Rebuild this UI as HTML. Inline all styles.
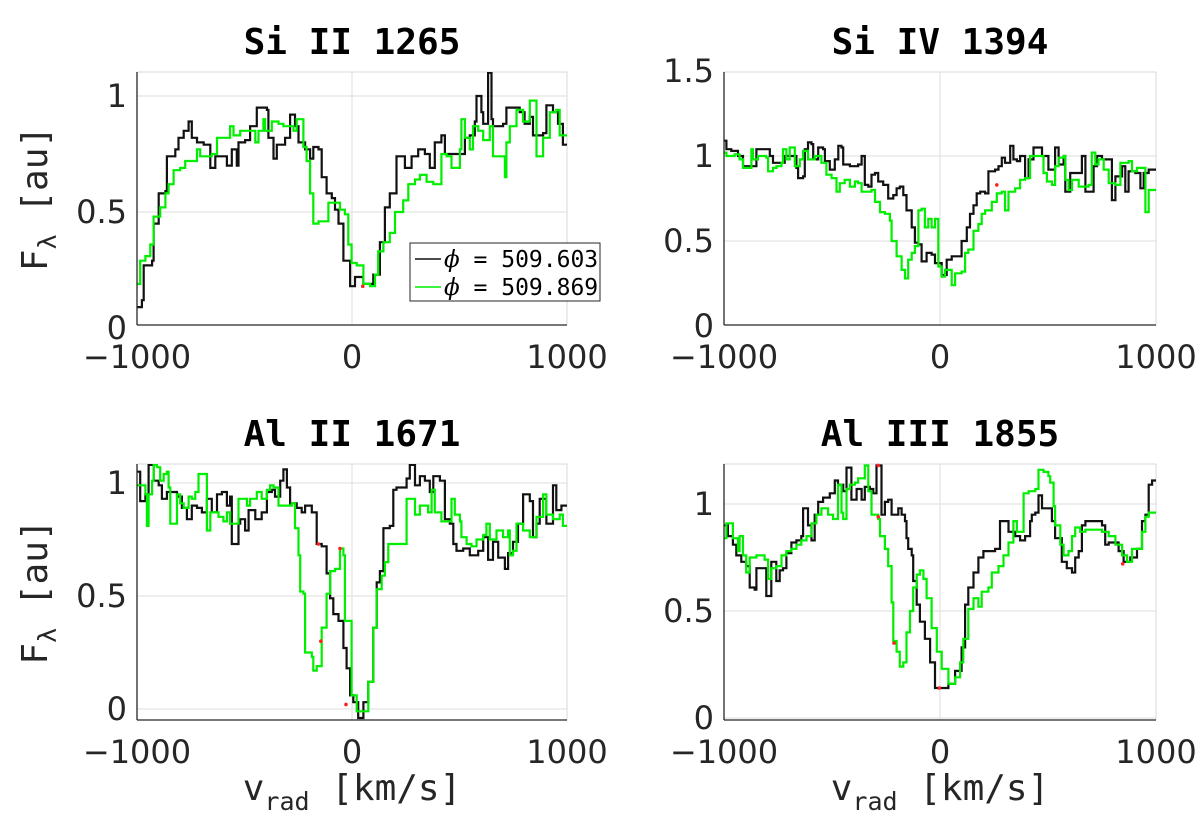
<!DOCTYPE html>
<html><head><meta charset="utf-8">
<style>
html,body{margin:0;padding:0;background:#fff;}
svg{display:block;}
</style></head>
<body>
<svg id="fig" width="1200" height="826" viewBox="0 0 1200 826" xmlns="http://www.w3.org/2000/svg"></svg>
<script>
// ---------- data (velocity km/s, normalized flux) ----------
const xTicks = [-1000, 0, 1000];
const xTickLabels = ["\u22121000", "0", "1000"];
const legendLabels = ["509.603", "509.869"];

const siII_velA = [-1000,-977,-969,-930,-923,-899,-868,-861,-837,-822,-807,-783,-760,-745,-721,-690,-659,-636,-582,-559,-536,-528,-497,-474,-443,-396,-389,-365,-350,-311,-288,-265,-249,-218,-195,-180,-156,-141,-118,-94,-79,-63,-40,-9,14,53,99,130,153,176,207,238,246,277,308,339,362,385,416,432,494,525,548,571,579,602,610,633,649,656,687,703,718,780,803,827,842,889,904,935,958,981];
const siII_fluxA = [0.09,0.12,0.27,0.29,0.45,0.58,0.59,0.74,0.74,0.77,0.82,0.85,0.89,0.82,0.80,0.79,0.69,0.74,0.70,0.77,0.70,0.80,0.81,0.87,0.95,0.94,0.82,0.73,0.79,0.82,0.92,0.87,0.80,0.77,0.73,0.78,0.77,0.65,0.58,0.56,0.51,0.45,0.29,0.18,0.22,0.19,0.23,0.37,0.52,0.58,0.74,0.74,0.69,0.74,0.77,0.75,0.69,0.80,0.83,0.75,0.75,0.82,0.83,0.89,1.0,0.93,0.88,1.10,0.90,0.87,0.87,0.88,0.95,0.93,0.88,0.91,0.83,0.84,0.96,0.93,0.88,0.79];
const siII_velB = [-1000,-985,-961,-938,-923,-892,-868,-853,-830,-799,-776,-721,-706,-683,-652,-628,-582,-567,-551,-520,-489,-466,-450,-435,-412,-404,-373,-342,-319,-296,-272,-257,-234,-226,-211,-195,-180,-156,-125,-110,-79,-56,-33,-17,-2,22,53,84,107,122,146,176,200,238,262,293,316,347,378,416,440,463,502,509,525,548,563,587,610,641,656,687,711,718,734,765,796,827,858,889,920,950,966];
const siII_fluxB = [0.19,0.29,0.31,0.36,0.48,0.52,0.58,0.62,0.68,0.69,0.72,0.77,0.74,0.74,0.75,0.82,0.82,0.87,0.83,0.85,0.85,0.85,0.80,0.85,0.90,0.85,0.89,0.88,0.87,0.87,0.85,0.90,0.90,0.78,0.72,0.58,0.45,0.46,0.46,0.54,0.54,0.51,0.49,0.36,0.28,0.27,0.19,0.18,0.23,0.33,0.37,0.41,0.50,0.55,0.62,0.64,0.66,0.63,0.62,0.75,0.74,0.69,0.77,0.90,0.82,0.77,0.87,0.85,0.81,0.87,0.74,0.74,0.65,0.80,0.87,0.94,0.89,0.98,0.74,0.82,0.93,0.94,0.83];

const siIV_velA = [-1000,-989,-966,-935,-912,-858,-850,-804,-788,-773,-734,-719,-665,-657,-634,-626,-611,-595,-587,-564,-541,-533,-510,-487,-471,-456,-448,-417,-379,-363,-348,-332,-317,-301,-286,-263,-240,-216,-201,-186,-170,-155,-131,-116,-100,-85,-62,-39,-23,8,31,54,85,100,124,139,155,170,186,209,224,255,271,286,301,325,340,356,371,394,410,433,456,472,502,533,549,572,580,595,603,642,657,673,711,727,750,773,796,812,843,858,873,904,928,943,966];
const siIV_fluxA = [1.09,1.04,1.03,1.00,0.94,0.94,1.04,1.04,1.00,0.96,0.96,1.00,0.93,0.87,0.88,1.04,1.08,1.07,0.98,1.05,1.04,0.97,0.92,0.98,1.06,1.05,0.95,0.94,0.95,1.00,0.83,0.82,0.89,0.90,0.85,0.83,0.75,0.77,0.81,0.82,0.77,0.68,0.58,0.49,0.48,0.38,0.43,0.42,0.37,0.30,0.39,0.41,0.41,0.50,0.58,0.66,0.71,0.78,0.79,0.78,0.91,0.92,0.94,0.99,0.96,1.06,0.98,0.97,1.00,0.87,0.98,1.05,1.05,1.00,0.92,1.05,0.95,1.00,0.79,0.79,0.90,0.90,1.00,0.79,0.94,1.00,0.98,0.98,0.74,0.88,0.94,0.79,0.91,0.90,0.81,0.90,0.92];
const siIV_velB = [-1000,-989,-951,-928,-912,-881,-873,-866,-850,-843,-804,-796,-773,-757,-734,-727,-711,-696,-672,-649,-634,-611,-580,-549,-526,-502,-479,-464,-441,-417,-394,-379,-363,-317,-301,-278,-255,-232,-224,-201,-178,-162,-147,-131,-116,-100,-85,-70,-54,-39,-23,-8,8,23,54,70,100,116,131,155,178,193,209,240,263,286,301,317,348,371,394,417,448,479,495,518,533,549,572,580,595,611,642,688,703,719,734,758,781,812,835,873,889,912,951,966];
const siIV_fluxB = [1.02,1.00,1.01,0.98,0.93,0.93,1.04,0.98,0.98,1.00,0.99,0.91,0.93,0.94,0.96,1.04,0.98,1.05,0.94,0.98,1.03,0.98,1.00,0.96,0.89,0.87,0.79,0.84,0.86,0.82,0.85,0.84,0.79,0.80,0.73,0.67,0.66,0.62,0.50,0.41,0.33,0.28,0.39,0.43,0.47,0.68,0.69,0.58,0.63,0.58,0.63,0.35,0.29,0.33,0.24,0.31,0.32,0.43,0.45,0.56,0.60,0.66,0.68,0.73,0.78,0.79,0.68,0.79,0.81,0.86,0.87,1.00,1.00,0.90,0.85,0.83,0.94,0.99,1.00,0.86,0.80,0.86,0.82,0.83,1.02,0.95,0.98,0.92,0.84,0.83,0.96,0.97,0.91,0.93,0.67,0.80];

const alII_velA = [-1000,-985,-969,-961,-946,-930,-923,-899,-884,-861,-814,-791,-768,-745,-721,-698,-675,-652,-628,-605,-582,-567,-559,-536,-528,-520,-497,-481,-450,-420,-396,-373,-358,-334,-319,-303,-288,-257,-234,-218,-187,-164,-141,-118,-102,-87,-63,-40,-25,-9,6,29,53,76,99,115,130,146,176,192,207,254,269,285,293,316,339,362,378,409,432,455,471,486,517,548,587,610,633,656,680,711,726,749,772,796,827,842,858,873,904,935,950,974];
const alII_fluxA = [1.05,0.92,0.92,0.95,1.08,1.09,1.01,0.99,0.93,0.96,0.94,0.89,0.84,0.90,0.89,0.87,0.93,0.87,0.95,0.96,0.90,0.94,0.73,0.73,0.82,0.84,0.79,0.88,0.84,0.87,0.96,0.97,0.94,1.01,1.06,0.98,0.91,0.89,0.87,0.90,0.87,0.73,0.72,0.60,0.49,0.42,0.39,0.27,0.18,0.06,0.03,-0.04,0.03,0.12,0.36,0.56,0.61,0.80,0.81,0.97,0.98,1.02,1.08,1.08,0.99,1.03,1.01,0.96,1.03,1.01,0.84,0.82,0.73,0.70,0.71,0.68,0.70,0.76,0.66,0.74,0.67,0.62,0.69,0.74,0.82,0.95,0.92,0.76,0.82,0.93,0.82,0.99,0.88,0.90];
const alII_velB = [-1000,-985,-961,-954,-946,-930,-923,-907,-892,-876,-861,-853,-845,-822,-814,-799,-783,-760,-745,-729,-714,-683,-675,-659,-636,-621,-598,-582,-567,-536,-528,-489,-474,-443,-420,-396,-381,-365,-342,-319,-280,-265,-249,-241,-226,-218,-187,-180,-164,-141,-118,-102,-79,-56,-40,-33,-17,-2,22,53,76,99,115,138,153,169,254,285,293,316,354,370,385,416,447,463,478,502,509,533,556,579,610,625,641,672,703,726,734,749,765,796,827,858,889,904,935,966,981];
const alII_fluxB = [0.99,0.99,0.95,0.81,0.95,1.01,1.08,1.07,1.01,1.04,1.05,0.98,0.82,0.82,0.95,0.91,0.89,0.94,0.93,0.96,1.04,1.04,0.79,0.87,0.87,0.85,0.83,0.87,0.82,0.82,0.93,0.90,0.93,0.96,0.93,0.97,0.99,0.98,0.90,0.90,0.91,0.80,0.68,0.52,0.51,0.25,0.23,0.17,0.19,0.36,0.51,0.61,0.62,0.71,0.68,0.39,0.39,0.06,-0.01,-0.01,0.12,0.36,0.53,0.59,0.65,0.73,0.93,0.93,0.86,0.90,0.87,0.97,0.87,0.83,0.83,0.93,0.86,0.83,0.76,0.73,0.72,0.75,0.77,0.82,0.75,0.79,0.76,0.79,0.68,0.70,0.82,0.79,0.76,0.85,0.95,0.86,0.84,0.86,0.81];

const alIII_velA = [-1000,-982,-959,-943,-920,-897,-881,-858,-850,-819,-804,-788,-781,-765,-758,-742,-727,-711,-688,-665,-642,-634,-611,-595,-580,-564,-541,-510,-487,-472,-448,-433,-417,-410,-386,-363,-348,-325,-309,-294,-278,-271,-255,-240,-224,-193,-178,-162,-155,-147,-131,-124,-108,-93,-70,-46,-23,8,39,70,100,116,131,155,178,201,224,255,278,294,317,348,371,394,417,425,441,456,472,487,518,533,564,587,611,626,642,657,673,750,765,781,827,850,881,912,935,951,966,982];
const alIII_fluxA = [0.90,0.85,0.81,0.76,0.73,0.71,0.61,0.60,0.70,0.70,0.57,0.57,0.73,0.73,0.64,0.69,0.70,0.77,0.82,0.83,0.85,0.98,0.90,0.83,0.95,1.01,1.03,1.05,1.11,1.09,1.06,1.17,1.17,1.02,1.07,1.02,1.08,1.07,1.05,1.18,1.18,0.95,1.01,1.02,0.95,0.98,0.95,0.92,0.84,0.79,0.76,0.64,0.53,0.45,0.37,0.26,0.14,0.14,0.16,0.22,0.33,0.53,0.61,0.68,0.75,0.78,0.78,0.79,0.92,0.92,0.87,0.85,0.83,0.85,0.92,0.95,0.96,1.04,0.98,0.98,0.92,0.84,0.73,0.70,0.68,0.75,0.78,0.90,0.92,0.90,0.81,0.82,0.78,0.73,0.75,0.79,0.92,0.95,1.09,1.11];
const alIII_velB = [-1000,-989,-966,-959,-935,-928,-912,-897,-881,-850,-835,-812,-796,-781,-758,-734,-711,-688,-665,-642,-618,-595,-572,-549,-518,-495,-472,-456,-448,-433,-417,-394,-379,-363,-348,-332,-317,-286,-278,-255,-240,-224,-216,-201,-186,-170,-155,-139,-124,-108,-93,-77,-62,-39,-15,8,39,70,93,108,131,155,178,193,224,240,271,294,317,340,356,371,387,410,441,456,479,502,510,526,533,557,572,595,611,626,649,673,750,781,812,843,866,889,920,935,951,966];
const alIII_fluxB = [0.84,0.91,0.91,0.84,0.78,0.85,0.76,0.68,0.75,0.76,0.76,0.74,0.65,0.70,0.71,0.76,0.78,0.79,0.81,0.83,0.85,0.91,0.95,0.98,0.95,0.93,1.09,0.96,0.93,1.07,1.09,1.10,1.12,1.12,1.18,1.06,0.95,0.93,0.85,0.79,0.71,0.54,0.36,0.31,0.24,0.26,0.40,0.50,0.61,0.67,0.69,0.65,0.56,0.42,0.31,0.23,0.16,0.19,0.26,0.37,0.51,0.56,0.52,0.59,0.61,0.68,0.71,0.76,0.82,0.92,0.87,0.87,1.05,1.06,1.07,1.16,1.15,1.13,1.10,0.99,0.90,0.81,0.76,0.78,0.85,0.89,0.87,0.88,0.87,0.85,0.81,0.76,0.73,0.79,0.79,0.87,0.94,0.96];

// red marker points
const siII_redV = [50], siII_redF = [0.18];
const siIV_redV = [263], siIV_redF = [0.83];
const alII_redV = [-156,-56,-145,-28], alII_redF = [0.73,0.71,0.30,0.02];
const alIII_redV = [-286,-286,-213,-3,846], alIII_redF = [1.18,0.94,0.35,0.14,0.72];

const siII_yTicks = [0, 0.5, 1], siII_yLabels = ["0","0.5","1"];
const siIV_yTicks = [0, 0.5, 1, 1.5], siIV_yLabels = ["0","0.5","1","1.5"];
const alII_yTicks = [0, 0.5, 1], alII_yLabels = ["0","0.5","1"];
const alIII_yTicks = [0, 0.5, 1], alIII_yLabels = ["0","0.5","1"];

// ---------- rendering ----------
const NS = "http://www.w3.org/2000/svg";
const svg = document.getElementById("fig");
function mk(tag, attrs, parent) {
  const e = document.createElementNS(NS, tag);
  for (const k in attrs) e.setAttribute(k, attrs[k]);
  (parent || svg).appendChild(e);
  return e;
}

const panels = [
  {key:"si-ii-1265", title:"Si II 1265", left:137, right:567, top:72, bottom:325, y0:328, y1:96,
   yTicks:siII_yTicks, yLabels:siII_yLabels, vA:siII_velA, fA:siII_fluxA, vB:siII_velB, fB:siII_fluxB,
   rV:siII_redV, rF:siII_redF, ylabel:true, xlabel:false, legend:true},
  {key:"si-iv-1394", title:"Si IV 1394", left:724, right:1156, top:72, bottom:325, y0:326, y1:156,
   yTicks:siIV_yTicks, yLabels:siIV_yLabels, vA:siIV_velA, fA:siIV_fluxA, vB:siIV_velB, fB:siIV_fluxB,
   rV:siIV_redV, rF:siIV_redF, ylabel:false, xlabel:false, legend:false},
  {key:"al-ii-1671", title:"Al II 1671", left:137, right:567, top:464, bottom:720, y0:709, y1:483,
   yTicks:alII_yTicks, yLabels:alII_yLabels, vA:alII_velA, fA:alII_fluxA, vB:alII_velB, fB:alII_fluxB,
   rV:alII_redV, rF:alII_redF, ylabel:true, xlabel:true, legend:false},
  {key:"al-iii-1855", title:"Al III 1855", left:724, right:1156, top:464, bottom:720, y0:718, y1:504,
   yTicks:alIII_yTicks, yLabels:alIII_yLabels, vA:alIII_velA, fA:alIII_fluxA, vB:alIII_velB, fB:alIII_fluxB,
   rV:alIII_redV, rF:alIII_redF, ylabel:false, xlabel:true, legend:false}
];

const MONO = '"DejaVu Sans Mono","Liberation Mono",monospace';
const SANS = '"DejaVu Sans","Liberation Sans",sans-serif';

panels.forEach(p => {
  const g = mk("g", {});
  
  
  const xs = v => p.left + (v + 1000) / 2000 * (p.right - p.left);
  const ys = f => p.y0 + (p.y1 - p.y0) * f;
  const clipId = "clip-" + p.key;
  const cp = mk("clipPath", {id: clipId}, g);
  mk("rect", {x:p.left, y:p.top, width:p.right-p.left, height:p.bottom-p.top}, cp);

  xTicks.forEach(t => {
    if (t === -1000 || t === 1000) return;
    const l = mk("line", {x1:xs(t), x2:xs(t), y1:p.top, y2:p.bottom, stroke:"#e3e3e3", "stroke-width":1.2}, g);
    
    
  });
  p.yTicks.forEach(t => {
    const y = ys(t);
    if (y < p.top || y > p.bottom) return;
    const l = mk("line", {x1:p.left, x2:p.right, y1:y, y2:y, stroke:"#e3e3e3", "stroke-width":1.2}, g);
    
    
  });
  mk("polyline", {points:`${p.left},${p.top} ${p.right},${p.top} ${p.right},${p.bottom}`, fill:"none", stroke:"#d8d8d8", "stroke-width":1}, g);

  function stairs(v, f, color, name) {
    const n = Math.min(v.length, f.length);
    let d = "";
    for (let i = 0; i < n; i++) {
      const x0 = xs(v[i]);
      const x1 = xs(i + 1 < n ? v[i + 1] : 1000);
      const y = ys(f[i]);
      d += (i === 0 ? "M" : "L") + x0.toFixed(1) + "," + y.toFixed(1) + "L" + x1.toFixed(1) + "," + y.toFixed(1);
    }
    const path = mk("path", {d:d, fill:"none", stroke:color, "stroke-width":2.2, "stroke-linejoin":"miter", "clip-path":`url(#${clipId})`}, g);
    
    
  }
  stairs(p.vA, p.fA, "#111111", p.key + "-phi-509603-line");
  stairs(p.vB, p.fB, "#00ee00", p.key + "-phi-509869-line");
  for (let i = 0; i < Math.min(p.rV.length, p.rF.length); i++) {
    const c = mk("circle", {cx:xs(p.rV[i]), cy:ys(p.rF[i]), r:1.8, fill:"#ff2020"}, g);
    
    
  }

  const ax = mk("line", {x1:p.left, x2:p.right, y1:p.bottom, y2:p.bottom, stroke:"#262626", "stroke-width":1.3}, g);
  
  
  const ay = mk("line", {x1:p.left, x2:p.left, y1:p.top, y2:p.bottom, stroke:"#262626", "stroke-width":1.3}, g);
  
  

  xTicks.forEach((t, i) => {
    const tx = mk("text", {x:xs(t), y:p.bottom + 43, "text-anchor":"middle", "font-family":SANS, "font-size":32, fill:"#262626"}, g);
    tx.textContent = xTickLabels[i];
    
    
  });
  p.yTicks.forEach((t, i) => {
    const tx = mk("text", {x:p.left - 10, y:ys(t) + 11, "text-anchor":"end", "font-family":SANS, "font-size":32, fill:"#262626"}, g);
    tx.textContent = p.yLabels[i];
    
    
  });

  const title = mk("text", {x:(p.left + p.right) / 2, y:p.top - 18, "text-anchor":"middle", "font-family":MONO, "font-weight":"bold", "font-size":36, fill:"#000"}, g);
  title.textContent = p.title;
  
  

  if (p.ylabel) {
    const cy = (p.top + p.bottom) / 2;
    const yl = mk("text", {transform:`translate(47,${cy}) rotate(-90)`, "text-anchor":"middle", "font-family":MONO, "font-size":36, fill:"#262626"}, g);
    yl.innerHTML = 'F<tspan dy="9" font-size="25">λ</tspan><tspan dy="-9"> [au]</tspan>';
    
    
  }
  if (p.xlabel) {
    const xl = mk("text", {x:(p.left + p.right) / 2, y:800, "text-anchor":"middle", "font-family":MONO, "font-size":36, fill:"#262626"}, g);
    xl.innerHTML = 'v<tspan dy="10" font-size="25">rad</tspan><tspan dy="-10"> [km/s]</tspan>';
    
    
  }
  if (p.legend) {
    const lg = mk("g", {}, g);
    
    
    mk("rect", {x:410, y:243, width:190, height:58, fill:"#fff", stroke:"#262626", "stroke-width":1}, lg);
    const cols = ["#111111", "#00ee00"];
    legendLabels.forEach((lab, i) => {
      const yy = 259 + i * 28;
      const e = mk("g", {}, lg);
      
      
      mk("line", {x1:415, x2:441, y1:yy, y2:yy, stroke:cols[i], "stroke-width":1.6}, e);
      const t = mk("text", {x:444, y:yy + 8, "font-family":MONO, "font-size":23, fill:"#000"}, e);
      t.innerHTML = '<tspan font-family=\'"DejaVu Serif",serif\' font-style="italic">ϕ</tspan> = ' + lab;
    });
  }
});
</script>
</body></html>
